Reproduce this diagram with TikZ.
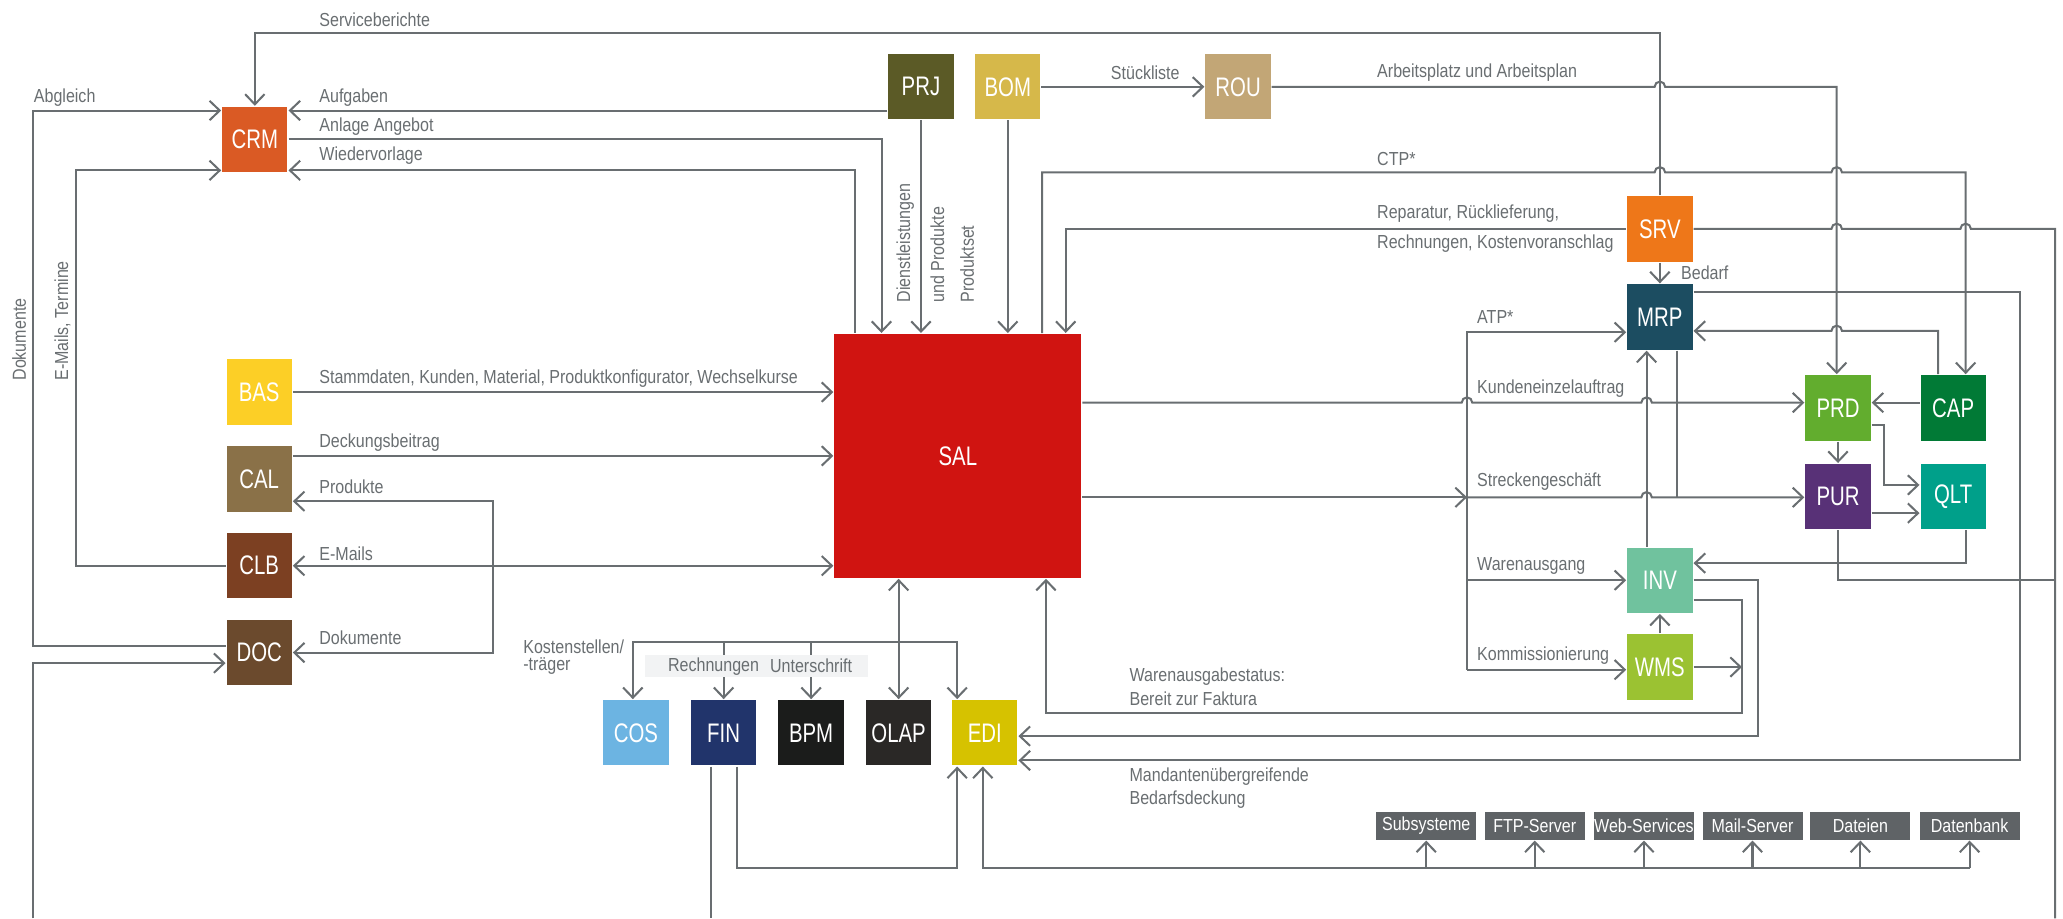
\documentclass[tikz,border=0pt]{standalone}
\usepackage{fontspec}
\setmainfont{Liberation Sans}[FakeStretch=0.85]
\newfontfamily\boxfont{Liberation Sans}[FakeStretch=0.76]
\usetikzlibrary{arrows.meta}

\definecolor{linegray}{HTML}{696E71}
\definecolor{extgray}{HTML}{5F6366}
\definecolor{lblbg}{HTML}{F2F3F4}
\definecolor{colCRM}{HTML}{DA5A24}
\definecolor{colPRJ}{HTML}{5B5A26}
\definecolor{colBOM}{HTML}{D6B84A}
\definecolor{colROU}{HTML}{C2A676}
\definecolor{colSRV}{HTML}{EE7719}
\definecolor{colMRP}{HTML}{1C4D61}
\definecolor{colPRD}{HTML}{62AD2E}
\definecolor{colCAP}{HTML}{017A36}
\definecolor{colPUR}{HTML}{583177}
\definecolor{colQLT}{HTML}{00A08A}
\definecolor{colINV}{HTML}{70C29E}
\definecolor{colWMS}{HTML}{9BC232}
\definecolor{colBAS}{HTML}{FCCF26}
\definecolor{colCAL}{HTML}{8A7148}
\definecolor{colCLB}{HTML}{7C4022}
\definecolor{colDOC}{HTML}{6B4A2D}
\definecolor{colSAL}{HTML}{D01411}
\definecolor{colCOS}{HTML}{6CB4E2}
\definecolor{colFIN}{HTML}{21346B}
\definecolor{colBPM}{HTML}{1B1C1B}
\definecolor{colOLAP}{HTML}{2A2826}
\definecolor{colEDI}{HTML}{D6C200}

\begin{document}
\begin{tikzpicture}[x=0.025cm, y=-0.025cm, line width=1.1pt, color=linegray,
  >={Straight Barb[length=5.5pt,width=10.5pt]},
  sys/.style={fill=#1, text=white, minimum width=1.24cm, minimum height=1.24cm,
    inner sep=0pt, font=\boxfont\fontsize{14.5}{15}\selectfont},
  lbl/.style={text=linegray, inner sep=0pt, anchor=west, font=\fontsize{10.2}{11}\selectfont},
  vlbl/.style={lbl, rotate=90},
  ext/.style={fill=extgray, text=white, minimum width=1.9cm, minimum height=0.53cm,
    inner sep=0pt, font=\fontsize{10.2}{11}\selectfont}]
  \useasboundingbox (0,0) rectangle (1568,698);

  \node[sys=colCRM] (CRM) at (193.7,106) {CRM};
  \node[sys=colPRJ] (PRJ) at (700,66) {PRJ};
  \node[sys=colBOM] (BOM) at (766,66) {BOM};
  \node[sys=colROU] (ROU) at (941,66) {ROU};
  \node[sys=colSRV] (SRV) at (1261.6,174) {SRV};
  \node[sys=colMRP] (MRP) at (1261.6,241) {MRP};
  \node[sys=colPRD] (PRD) at (1397,310) {PRD};
  \node[sys=colCAP] (CAP) at (1484.5,310) {CAP};
  \node[sys=colPUR] (PUR) at (1397,377.5) {PUR};
  \node[sys=colQLT] (QLT) at (1484.5,377.5) {QLT};
  \node[sys=colINV] (INV) at (1261.6,441) {INV};
  \node[sys=colWMS] (WMS) at (1261.6,507) {WMS};
  \node[sys=colBAS] (BAS) at (197,298) {BAS};
  \node[sys=colCAL] (CAL) at (197,364) {CAL};
  \node[sys=colCLB] (CLB) at (197,430) {CLB};
  \node[sys=colDOC] (DOC) at (197,496) {DOC};
  \node[sys=colSAL, minimum width=4.69cm, minimum height=4.63cm] (SAL) at (728,346.5) {SAL};
  \node[sys=colCOS] (COS) at (483.3,557) {COS};
  \node[sys=colFIN] (FIN) at (550,557) {FIN};
  \node[sys=colBPM] (BPM) at (616.5,557) {BPM};
  \node[sys=colOLAP] (OLAP) at (683,557) {OLAP};
  \node[sys=colEDI] (EDI) at (748.5,557) {EDI};
  \foreach \n/\t/\x in {sub/Subsysteme/1084, ftp/FTP-Server/1166.5, web/Web-Services/1249.5,
      mail/Mail-Server/1332, dat/Dateien/1414, db/Datenbank/1497}
    \node[ext] (\n) at (\x,627.5) {\t};

  % CRM
  \draw[->] (SRV.north) |- (CRM.north |- 0,25) -- (CRM.north);
  \draw[->] (DOC.west |- 0,491) -| (25,84) -- (CRM.west |- 0,84);
  \draw[->] (CLB.west) -| (58,129.5) -- (CRM.west |- 0,129.5);
  \draw[->] (PRJ.west |- 0,84) -- (CRM.east |- 0,84);
  \draw[->] (CRM.east) -| (670,0 |- SAL.north);
  \draw[->] (650,0 |- SAL.north) |- (CRM.east |- 0,129.5);

  % top row
  \draw[->] (PRJ.south) -- (PRJ.south |- SAL.north);
  \draw[->] (BOM.south) -- (BOM.south |- SAL.north);
  \draw[->] (BOM.east) -- (ROU.west);
  \draw[->] (ROU.east) -- (1257.6,66) arc[start angle=180,end angle=360,radius=4]
    -- (1396,66) -- (1396,0 |- PRD.north);
  \draw[->] (792,0 |- SAL.north) |- (1257.6,131) arc[start angle=180,end angle=360,radius=4]
    -- (1392,131) arc[start angle=180,end angle=360,radius=4] -- (1494,131) -- (1494,0 |- CAP.north);
  \draw[->] (SRV.west) -| (810,0 |- SAL.north);
  \draw (SRV.east) -- (1392,174) arc[start angle=180,end angle=360,radius=4]
    -- (1490,174) arc[start angle=180,end angle=360,radius=4] -- (1562,174) -- (1562,698);

  % MRP
  \draw[->] (SRV.south) -- (MRP.north);
  \draw[->] (MRP.east |- 0,222) -| (1535,578) -- (EDI.east |- 0,578);
  \draw[->] (1473,0 |- CAP.north) -- (1473,251.5) -- (1400,251.5)
    arc[start angle=360,end angle=180,radius=4] -- (MRP.east |- 0,251.5);
  \draw (1274.6,0 |- MRP.south) -- (1274.6,378);
  \draw[->] (1251.5,0 |- INV.north) -- (1251.5,0 |- MRP.south);

  % SAL right
  \draw[->] (SAL.east |- 0,306) -- (1111,306) arc[start angle=180,end angle=360,radius=4]
    -- (1247.5,306) arc[start angle=180,end angle=360,radius=4] -- (PRD.west |- 0,306);
  \draw[->] (SAL.east |- 0,378) -- (1115,378);
  \draw[->] (1115,378) -- (1247.5,378) arc[start angle=180,end angle=360,radius=4] -- (PUR.west |- 0,378);
  \draw[->] (1115,509) |- (MRP.west |- 0,252.5);
  \draw[->] (1115,441) -- (INV.west);
  \draw[->] (1115,509) -- (WMS.west |- 0,509);

  % PRD, PUR, QLT
  \draw[->] (CAP.west |- 0,306) -- (PRD.east |- 0,306);
  \draw[->] (PRD.south) -- (PUR.north);
  \draw[->] (PRD.east |- 0,323) -| (1432,368.6) -- (QLT.west |- 0,368.6);
  \draw[->] (PUR.east |- 0,390) -- (QLT.west |- 0,390);
  \draw[->] (1494,0 |- QLT.south) |- (INV.east |- 0,428);
  \draw (PUR.south) |- (1562,441);

  % INV, WMS
  \draw[->] (WMS.north) -- (INV.south);
  \draw[->] (INV.east) -| (1336,559.5) -- (EDI.east |- 0,559.5);
  \draw[->] (INV.east |- 0,456) -| (1324,542) -| (795,0 |- SAL.south);
  \draw[->] (WMS.east) -- (1324,0 |- WMS.east);

  % left column
  \draw[->] (BAS.east) -- (SAL.west |- BAS.east);
  \draw[->] (CAL.east |- SAL.west) -- (SAL.west);
  \draw[<->] (CLB.east) -- (SAL.west |- CLB.east);
  \draw[<->] (CAL.east |- 0,381) -| (375,496) -- (DOC.east);
  \draw[->] (25,698) |- (DOC.west |- 0,504);

  % bottom row
  \draw[<->] (OLAP.north |- SAL.south) -- (OLAP.north);
  \draw[<->] (481,0 |- COS.north) |- (727.5,488) -- (727.5,0 |- EDI.north);
  \draw[->] (FIN.north |- 0,488) -- (FIN.north);
  \draw[->] (BPM.north |- 0,488) -- (BPM.north);
  \draw (540.5,0 |- FIN.south) -- (540.5,698);
  \draw[->] (560,0 |- FIN.south) |- (727.5,660) -- (727.5,0 |- EDI.south);
  \draw[->] (db.south |- 0,660) -| (747,0 |- EDI.south);
  \foreach \n in {sub,ftp,web,mail,dat,db}
    \draw[->] (\n.south |- 0,660) -- (\n.south);
  \node[fill=lblbg, minimum width=4.25cm, minimum height=0.415cm, inner sep=0pt] (billbox) at (575,506.3) {};

  % labels
  \node[lbl] (l1) at (242,15) {Serviceberichte};
  \node[lbl] (l2) at (25,74) {Abgleich};
  \node[lbl] (l3) at (242,74) {Aufgaben};
  \node[lbl] (l4) at (242,96) {Anlage Angebot};
  \node[lbl] (l5) at (242,118.6) {Wiedervorlage};
  \node[lbl] (l6) at (843.6,55) {Stückliste};
  \node[lbl] (l7) at (1046,55) {Arbeitsplatz und Arbeitsplan};
  \node[lbl] (l8) at (1046,121) {CTP*};
  \node[lbl] (l9) at (1046,162) {Reparatur, Rücklieferung,};
  \node[lbl] (l10) at (1046,185) {Rechnungen, Kostenvoranschlag};
  \node[lbl] (l11) at (1277,207) {Bedarf};
  \node[lbl] (l12) at (1122,241) {ATP*};
  \node[lbl] (l13) at (1122,295) {Kundeneinzelauftrag};
  \node[lbl] (l14) at (1122,366) {Streckengeschäft};
  \node[lbl] (l15) at (1122,430.5) {Warenausgang};
  \node[lbl] (l16) at (1122,498) {Kommissionierung};
  \node[lbl] (l17) at (242,287.6) {Stammdaten, Kunden, Material, Produktkonfigurator, Wechselkurse};
  \node[lbl] (l18) at (242,336.6) {Deckungsbeitrag};
  \node[lbl] (l19) at (242,370) {Produkte};
  \node[lbl] (l20) at (242,421) {E-Mails};
  \node[lbl] (l21) at (242,485) {Dokumente};
  \node[lbl] (l22) at (397,491.5) {Kostenstellen/};
  \node[lbl] (l23) at (397,506) {-träger};
  \node[lbl] (l24) at (507,506.3) {Rechnungen};
  \node[lbl] (l25) at (584.5,506.3) {Unterschrift};
  \node[lbl] (l26) at (857.8,514) {Warenausgabestatus:};
  \node[lbl] (l27) at (857.8,531) {Bereit zur Faktura};
  \node[lbl] (l28) at (857.8,590.5) {Mandantenübergreifende};
  \node[lbl] (l29) at (857.8,608) {Bedarfsdeckung};
  \node[vlbl] (v1) at (14.5,290) {Dokumente};
  \node[vlbl] (v2) at (47.5,290) {E-Mails, Termine};
  \node[vlbl] (v3) at (688,230.5) {Dienstleistungen};
  \node[vlbl] (v4) at (712.5,230.5) {und Produkte};
  \node[vlbl] (v5) at (735,230.5) {Produktset};
\end{tikzpicture}
\end{document}
